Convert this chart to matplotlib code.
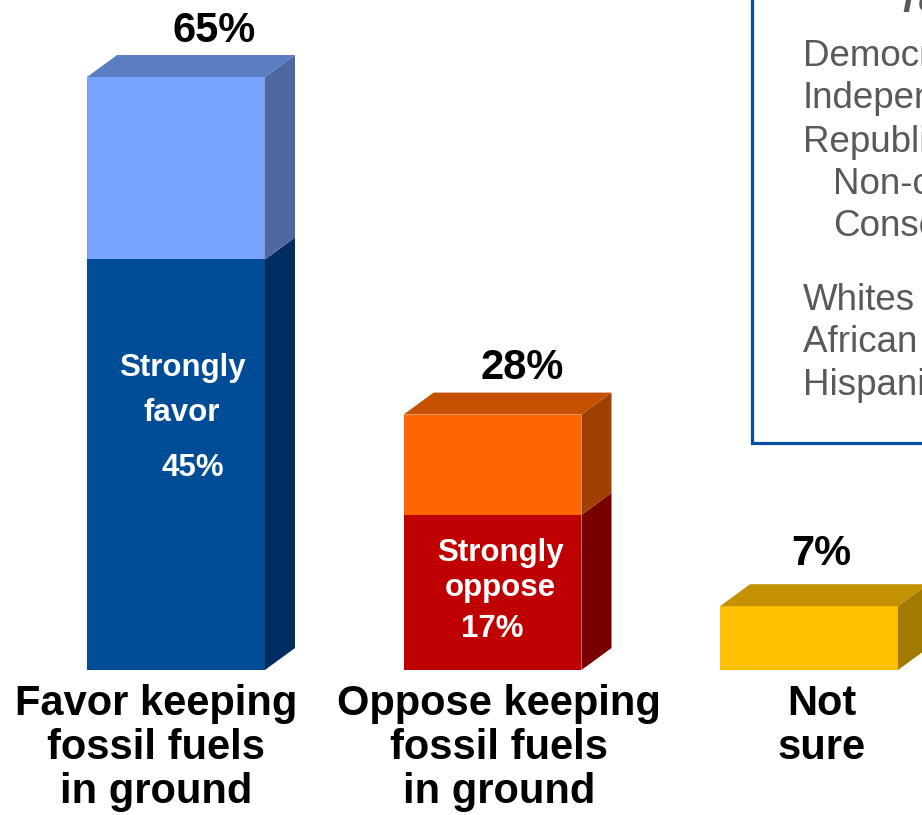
import matplotlib
matplotlib.use("Agg")
import matplotlib.pyplot as plt
from matplotlib.patches import Polygon, Rectangle

plt.rcParams['font.family'] = ['Liberation Sans', 'DejaVu Sans']

# data
categories = ["Favor keeping\nfossil fuels\nin ground", "Oppose keeping\nfossil fuels\nin ground", "Not\nsure"]
totals = [65, 28, 7]
strong = [45, 17, 0]
strong_labels = ["Strongly\nfavor", "Strongly\noppose", ""]
box_title = "Total favor"
box_rows = ["Democrats", "Independents", "Republicans", "Non-conservatives", "Conservatives",
            "Whites", "African Americans", "Hispanics"]
box_indent = [0, 0, 0, 1, 1, 0, 0, 0]

# colours: (front, side, top) for the upper part and (front, side) for the strong part
upper_cols = [("#78a3ff", "#4f68a2", "#5b7dc2"),
              ("#ff6600", "#a04000", "#c45000"),
              ("#ffc000", "#a07b00", "#c49200")]
strong_cols = [("#004c97", "#002e62"),
               ("#c00000", "#7a0000"),
               ("#c00000", "#7a0000")]

fig = plt.figure(figsize=(9.22, 8.15), dpi=100)
ax = fig.add_axes([0, 0, 1, 1])
ax.set_xlim(-0.556, 2.357)
ax.set_ylim(-15.89, 73.44)
ax.axis('off')

w = 0.562      # bar width
dx = 0.095     # depth, x
dy = 2.41      # depth, y


def side(x, b, t, color):
    pts = [(x + w / 2, b), (x + w / 2 + dx, b + dy), (x + w / 2 + dx, t + dy), (x + w / 2, t)]
    ax.add_patch(Polygon(pts, closed=True, facecolor=color, edgecolor='none'))


def top(x, t, color):
    pts = [(x - w / 2, t), (x - w / 2 + dx, t + dy), (x + w / 2 + dx, t + dy), (x + w / 2, t)]
    ax.add_patch(Polygon(pts, closed=True, facecolor=color, edgecolor='none'))


for i, (tot, st) in enumerate(zip(totals, strong)):
    # strong part
    if st > 0:
        ax.bar(i, st, width=w, bottom=0, color=strong_cols[i][0], linewidth=0)
        side(i, 0, st, strong_cols[i][1])
    # rest
    ax.bar(i, tot - st, width=w, bottom=st, color=upper_cols[i][0], linewidth=0)
    side(i, st, tot, upper_cols[i][1])
    top(i, tot, upper_cols[i][2])

# value labels above
label_dx = [0.12, 0.095, 0.04]
label_dy = [2.6, 2.7, 3.3]
for i, tot in enumerate(totals):
    ax.text(i + label_dx[i], tot + dy + label_dy[i], f"{tot}%", ha='center', va='center',
            fontsize=30, fontweight='bold', color='black')

# category labels
cat_dx = [-0.063, 0.02, 0.04]
for i, c in enumerate(categories):
    ax.text(i + cat_dx[i], -1.5, c, ha='center', va='top', fontsize=30,
            fontweight='bold', color='black', linespacing=1.14)

# strong labels inside bars
ax.text(0 + 0.019, 30.6, strong_labels[0], ha='center', va='center', fontsize=22.5,
        fontweight='bold', color='white', linespacing=1.65)
ax.text(0 + 0.054, 22.1, f"{strong[0]}%", ha='center', va='center', fontsize=22.5,
        fontweight='bold', color='white')
ax.text(1 + 0.024, 10.9, strong_labels[1], ha='center', va='center', fontsize=22.5,
        fontweight='bold', color='white', linespacing=1.25)
ax.text(1 - 0.002, 4.55, f"{strong[1]}%", ha='center', va='center', fontsize=22.5,
        fontweight='bold', color='white')

# side box (cut off by the figure edge)
fig.add_artist(Rectangle((752 / 922, 1 - 443 / 815), 0.5, 0.8, transform=fig.transFigure,
                         facecolor='white', edgecolor='#0a4ea3', linewidth=2.3, clip_on=False))
fig.text(897 / 922, 1 - 3 / 815, box_title, ha='left', va='center', fontsize=26.5,
         fontweight='bold', fontstyle='italic', color='#595959')
row_y = [57, 99, 142, 185, 227, 300, 343, 386]
for txt, ind, py in zip(box_rows, box_indent, row_y):
    fig.text((803 + 30 * ind) / 922, 1 - py / 815, txt, ha='left', va='center',
             fontsize=26.5, color='#595959')

fig.savefig("out.png", dpi=100)
